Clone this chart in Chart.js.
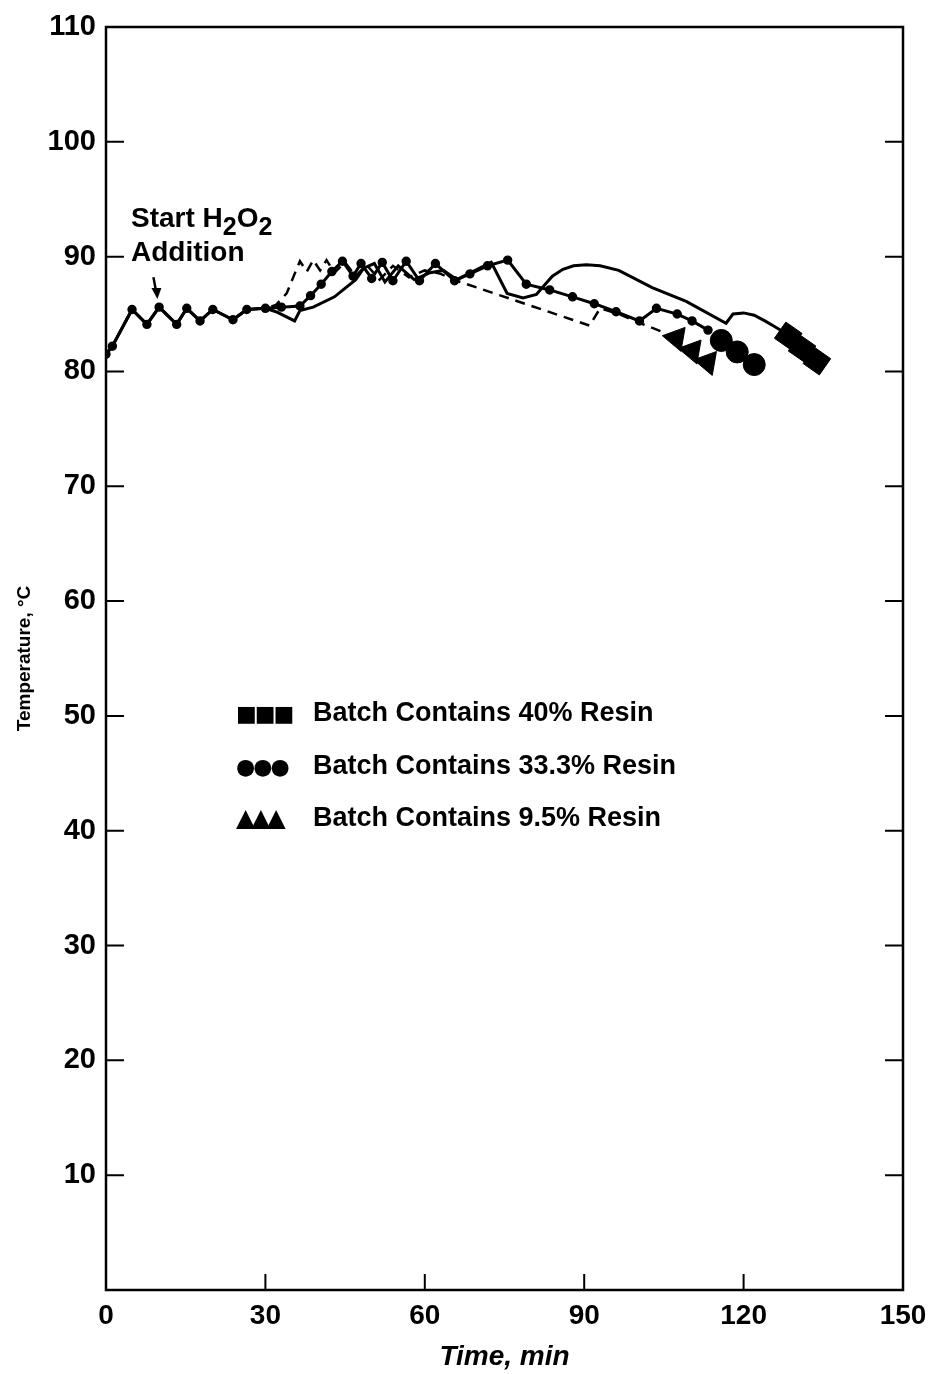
<!DOCTYPE html>
<html lang="en">
<head>
<meta charset="UTF-8">
<title>Temperature vs Time</title>
<script src="https://cdn.jsdelivr.net/npm/chart.js"></script>
<style>
  body { margin: 0; background: #fff; overflow: hidden; }
  #wrap { position: relative; width: 929px; height: 1374px; }
  .txt { position: absolute; font-family: "Liberation Sans", Arial, sans-serif; font-weight: bold; color: #000; white-space: nowrap; }
  .note { left: 131px; top: 201px; font-size: 28px; line-height: 34px; }
  .note sub { font-size: 25px; vertical-align: -8px; line-height: 0; }
  .legend { left: 236px; font-size: 27px; line-height: 30px; }
  .legend .mk { display: inline-block; width: 77px; font-family: "DejaVu Sans", sans-serif; font-size: 22px; letter-spacing: -2px; }
  .legend .tri { font-size: 25px; letter-spacing: -4px; }
</style>
</head>
<body>
<div id="wrap">
  <canvas id="tempChart"></canvas>
  <div class="txt note">Start H<sub>2</sub>O<sub>2</sub><br>Addition</div>
  <div class="txt legend" style="top:697px"><span class="mk">■■■</span>Batch Contains 40% Resin</div>
  <div class="txt legend" style="top:750px"><span class="mk">●●●</span>Batch Contains 33.3% Resin</div>
  <div class="txt legend" style="top:802px"><span class="mk tri">▲▲▲</span>Batch Contains 9.5% Resin</div>
</div>

<script>
// heating period shared by all batches, 0-30 min
const timeStart = [0, 1.2, 4.9, 7.7, 10, 13.3, 15.2, 17.7, 20.1, 23.9, 26.5, 30];
const tempStart = [81.5, 82.2, 85.4, 84.1, 85.6, 84.1, 85.5, 84.4, 85.4, 84.5, 85.4, 85.5];

// 40% resin (solid line)
const time40 = [32, 35.5, 36.5, 39, 43, 47, 48.5, 50.5, 52.5, 55, 58, 61, 63.5, 66, 69.5, 72.5, 75.5, 78.5, 81, 82.5, 84, 86, 88, 90.4, 93, 96.5, 102.8, 109.2, 116.7, 118, 120, 122, 124, 125.5, 127.3];
const temp40 = [85.2, 84.4, 85.3, 85.6, 86.5, 88.0, 89.0, 89.4, 87.8, 89.2, 88.0, 88.6, 88.8, 88.0, 88.8, 89.5, 86.8, 86.4, 86.7, 87.5, 88.3, 88.9, 89.2, 89.3, 89.2, 88.8, 87.3, 86.1, 84.2, 85.0, 85.1, 84.9, 84.4, 84.0, 83.5];

// 33.3% resin (solid line with dots)
const time33 = [33, 36.5, 38.5, 40.5, 42.5, 44.5, 46.5, 48, 50, 52, 54, 56.5, 59, 62, 65.6, 68.5, 71.8, 75.6, 79.1, 83.5, 87.8, 91.9, 96, 100.4, 103.6, 107.5, 110.3, 113.3];
const temp33 = [85.6, 85.7, 86.6, 87.6, 88.7, 89.6, 88.3, 89.4, 88.1, 89.5, 87.9, 89.6, 87.9, 89.4, 87.9, 88.5, 89.2, 89.7, 87.6, 87.1, 86.5, 85.9, 85.2, 84.4, 85.5, 85.0, 84.4, 83.6];

// 9.5% resin (dashed line)
const time95 = [32, 34, 35.5, 36.5, 37.8, 39, 40.3, 41.5, 43, 45, 47, 49, 51.5, 54, 57, 60, 63, 66, 91, 93, 96.5, 100, 105];
const temp95 = [85.8, 86.8, 88.5, 89.6, 88.7, 89.7, 88.8, 89.7, 88.6, 89.5, 88.3, 89.3, 88.0, 89.2, 88.2, 88.8, 88.5, 87.9, 84.0, 85.5, 85.0, 84.3, 83.4];

// final readings, drawn as large markers
const timeEnd40 = [128.4, 131, 133.8];
const tempEnd40 = [83.1, 82.0, 80.9];
const timeEnd33 = [115.8, 118.8, 122];
const tempEnd33 = [82.7, 81.7, 80.6];
const timeEnd95 = [107.3, 110.3, 113.2];
const tempEnd95 = [82.9, 81.8, 80.8];

const xTicks = [0, 30, 60, 90, 120, 150];
const yTicks = [10, 20, 30, 40, 50, 60, 70, 80, 90, 100, 110];

function pts(ts, vs) { return ts.map((t, i) => ({ x: t, y: vs[i] })); }

const curve = (ts, vs, extra) => Object.assign({
  data: pts(timeStart, tempStart).concat(pts(ts, vs)),
  showLine: true,
  borderColor: '#000',
  backgroundColor: '#000',
  borderWidth: 3,
  pointRadius: 0,
  tension: 0
}, extra);

const markers = (ts, vs, style, radius, rot) => ({
  data: pts(ts, vs),
  showLine: false,
  pointStyle: style,
  pointRadius: radius,
  rotation: rot,
  backgroundColor: '#000',
  borderColor: '#000',
  borderWidth: 1
});

// frame with inward ticks on left, right and bottom, plus the annotation arrow
const framePlugin = {
  id: 'frame',
  afterDraw(chart) {
    const { ctx, chartArea: a, scales: { x, y } } = chart;
    ctx.save();
    ctx.strokeStyle = '#000';
    ctx.lineWidth = 2.5;
    ctx.strokeRect(a.left, a.top, a.right - a.left, a.bottom - a.top);
    ctx.lineWidth = 2;
    ctx.beginPath();
    yTicks.slice(0, -1).forEach(v => {
      const py = y.getPixelForValue(v);
      ctx.moveTo(a.left, py); ctx.lineTo(a.left + 18, py);
      ctx.moveTo(a.right, py); ctx.lineTo(a.right - 18, py);
    });
    xTicks.slice(1, -1).forEach(v => {
      const px = x.getPixelForValue(v);
      ctx.moveTo(px, a.bottom); ctx.lineTo(px, a.bottom - 16);
    });
    ctx.stroke();

    const ax = x.getPixelForValue(9.3);
    const y0 = y.getPixelForValue(88.2), y1 = y.getPixelForValue(86.3);
    ctx.lineWidth = 2.5;
    ctx.beginPath();
    ctx.moveTo(ax - 2, y0); ctx.lineTo(ax + 1, y1 - 6);
    ctx.stroke();
    ctx.beginPath();
    ctx.moveTo(ax + 2, y1);
    ctx.lineTo(ax - 4, y1 - 11);
    ctx.lineTo(ax + 6, y1 - 11);
    ctx.closePath();
    ctx.fill();
    ctx.restore();
  }
};

const ctx = document.getElementById('tempChart').getContext('2d');
new Chart(ctx, {
  type: 'scatter',
  data: {
    datasets: [
      curve(time40, temp40, {}),
      curve(time33, temp33, { pointRadius: 3.2, pointHoverRadius: 3.2 }),
      curve(time95, temp95, { borderDash: [10, 7], borderWidth: 2.5 }),
      markers(timeEnd40, tempEnd40, 'rect', 14, 35),
      markers(timeEnd33, tempEnd33, 'circle', 11, 0),
      markers(timeEnd95, tempEnd95, 'triangle', 14, -80)
    ]
  },
  options: {
    responsive: true,
    maintainAspectRatio: false,
    animation: false,
    layout: { padding: { top: 27, right: 26, left: 0, bottom: 0 } },
    plugins: { legend: { display: false }, tooltip: { enabled: false } },
    scales: {
      x: {
        type: 'linear',
        min: 0, max: 150,
        afterBuildTicks: s => { s.ticks = xTicks.map(v => ({ value: v })); },
        afterFit: s => { s.height = 84; s.paddingLeft = 0; s.paddingRight = 0; },
        grid: { display: false, drawTicks: false },
        border: { display: false },
        ticks: { padding: 9, color: '#000', font: { family: 'Liberation Sans', size: 28, weight: 'bold' } },
        title: {
          display: true, text: 'Time, min', color: '#000',
          padding: { top: 0, bottom: 0 },
          font: { family: 'Liberation Sans', size: 28, weight: 'bold', style: 'italic' }
        }
      },
      y: {
        type: 'linear',
        min: 0, max: 110,
        afterBuildTicks: s => { s.ticks = yTicks.map(v => ({ value: v })); },
        afterFit: s => { s.width = 106; s.paddingTop = 0; s.paddingBottom = 0; },
        grid: { display: false, drawTicks: false },
        border: { display: false },
        ticks: { padding: 10, color: '#000', font: { family: 'Liberation Sans', size: 29, weight: 'bold' } },
        title: {
          display: true, text: 'Temperature, °C', color: '#000',
          padding: { top: 13, bottom: 0 },
          font: { family: 'Liberation Sans', size: 19, weight: 'bold' }
        }
      }
    }
  },
  plugins: [framePlugin]
});
</script>
</body>
</html>
